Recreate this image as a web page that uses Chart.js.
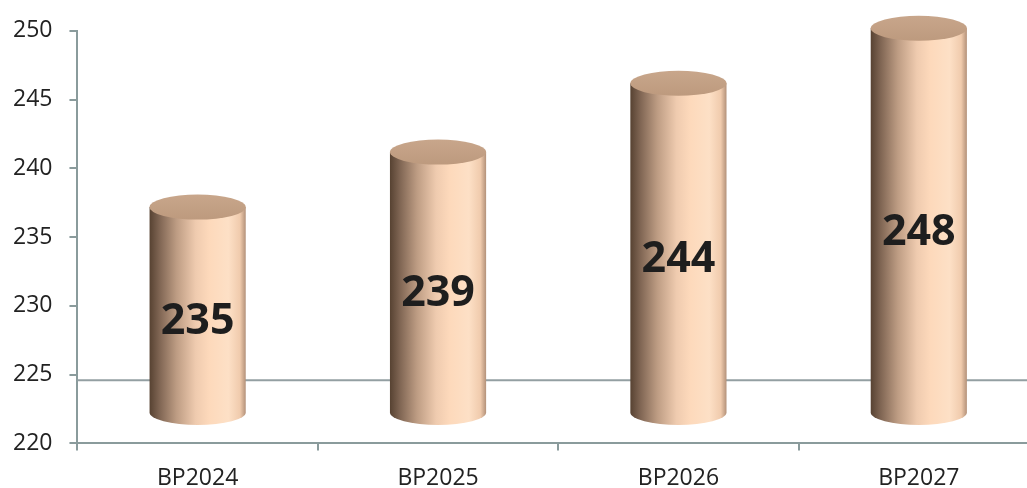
<!DOCTYPE html>
<html>
<head>
<meta charset="utf-8">
<script src="https://cdn.jsdelivr.net/npm/chart.js@4/dist/chart.umd.min.js"></script>
<style>
  html, body { margin: 0; padding: 0; background: #fff; overflow: hidden; }
  #wrap { position: relative; width: 1040px; height: 492px; }
</style>
</head>
<body>
<div id="wrap"><canvas id="chart"></canvas></div>
<script>
// chart data
const categories = ['BP2024', 'BP2025', 'BP2026', 'BP2027'];
const values = [235, 239, 244, 248];
const yMin = 220;
const yMax = 250;
const yStep = 5;
const floorValue = 224.6; // back edge of the 3D floor

const axisColor = '#8a9b9c';
const textColor = '#222222';

// draws each bar as a shaded cylinder, shifted up for the 3D depth
const cylinderPlugin = {
  id: 'cylinders',
  beforeDatasetsDraw(chart, args, opts) {
    const { ctx, chartArea } = chart;
    const y = chart.scales.y.getPixelForValue(floorValue);
    ctx.save();
    ctx.strokeStyle = '#939fa2';
    ctx.lineWidth = 2;
    ctx.beginPath();
    ctx.moveTo(chartArea.left, y);
    ctx.lineTo(chartArea.right, y);
    ctx.stroke();
    ctx.restore();
  },
  beforeDatasetDraw(chart, args, opts) {
    const ctx = chart.ctx;
    ctx.save();
    args.meta.data.forEach((bar) => {
      const rx = bar.width / 2;
      const ry = opts.ry;
      const x = bar.x;
      const top = bar.y - opts.shift;
      const base = bar.base - opts.shift;

      // body
      const g = ctx.createLinearGradient(x - rx, 0, x + rx, 0);
      g.addColorStop(0, '#574232');
      g.addColorStop(0.1, '#7e6452');
      g.addColorStop(0.28, '#bd9c83');
      g.addColorStop(0.48, '#efcbaf');
      g.addColorStop(0.62, '#fdd9bb');
      g.addColorStop(0.82, '#fde0c6');
      g.addColorStop(0.94, '#f0cbad');
      g.addColorStop(1, '#b39179');
      ctx.fillStyle = g;
      ctx.beginPath();
      ctx.moveTo(x - rx, top);
      ctx.lineTo(x - rx, base);
      ctx.ellipse(x, base, rx, ry, 0, Math.PI, 0, true);
      ctx.lineTo(x + rx, top);
      ctx.closePath();
      ctx.fill();

      // lid
      const lg = ctx.createLinearGradient(0, top - ry, 0, top + ry);
      lg.addColorStop(0, '#c8a68b');
      lg.addColorStop(1, '#bd9a7e');
      ctx.fillStyle = lg;
      ctx.beginPath();
      ctx.ellipse(x, top, rx, ry, 0, 0, Math.PI * 2);
      ctx.fill();
    });
    ctx.restore();
    return false;
  },
  afterDatasetsDraw(chart, args, opts) {
    const ctx = chart.ctx;
    const meta = chart.getDatasetMeta(0);
    ctx.save();
    ctx.font = 'bold 43px "Open Sans"';
    ctx.fillStyle = '#1e1e1e';
    ctx.textAlign = 'center';
    ctx.textBaseline = 'middle';
    meta.data.forEach((bar, i) => {
      const top = bar.y - opts.shift;
      const base = bar.base - opts.shift;
      ctx.fillText(String(values[i]), bar.x, (top + base) / 2 + opts.labelDrop);
    });
    ctx.restore();
  }
};

const ctx = document.getElementById('chart').getContext('2d');
const myChart = new Chart(ctx, {
  type: 'bar',
  data: {
    labels: categories,
    datasets: [{
      data: values,
      base: yMin,
      backgroundColor: '#fdd9bb',
      categoryPercentage: 1,
      barPercentage: 0.4
    }]
  },
  options: {
    responsive: true,
    maintainAspectRatio: false,
    animation: false,
    events: [],
    layout: { padding: { left: -4, top: 30, right: 1, bottom: -14 } },
    plugins: {
      legend: { display: false },
      tooltip: { enabled: false },
      cylinders: { shift: 30, ry: 12.5, labelDrop: 12 }
    },
    scales: {
      x: {
        border: { color: axisColor, width: 2 },
        grid: { display: true, drawOnChartArea: false, drawTicks: true, tickLength: 7, color: axisColor, lineWidth: 2, offset: true },
        ticks: { color: textColor, font: { family: 'Open Sans', size: 23 }, padding: 14, maxRotation: 0, minRotation: 0, autoSkip: false }
      },
      y: {
        min: yMin,
        max: yMax,
        border: { color: axisColor, width: 2 },
        grid: { display: true, drawOnChartArea: false, drawTicks: true, tickLength: 8, color: axisColor, lineWidth: 2 },
        ticks: { stepSize: yStep, color: textColor, font: { family: 'Open Sans', size: 23 }, padding: 17 }
      }
    }
  },
  plugins: [cylinderPlugin]
});
</script>
</body>
</html>
